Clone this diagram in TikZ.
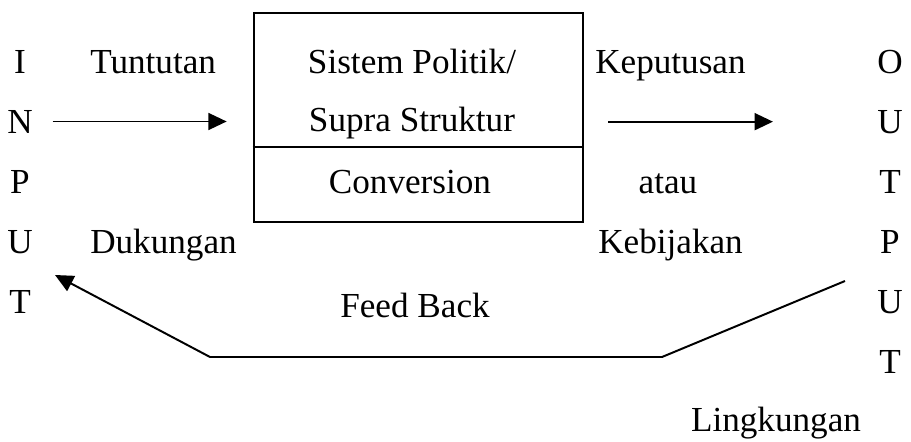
\documentclass[tikz,border=0pt]{standalone}
\usepackage{fontspec}
\setmainfont{Liberation Serif}
\usetikzlibrary{arrows.meta}

\tikzset{
  lbl/.style={anchor=base, inner sep=0pt, font=\fontsize{25}{30}\selectfont},
  arr/.style={line width=1.4pt, -{Triangle[length=13pt, width=12pt]}},
  sysbox/.style={draw, line width=1.8pt, minimum width=8.225cm, minimum height=5.225cm}
}

\begin{document}
\begin{tikzpicture}[x=0.025cm, y=-0.025cm]
  \useasboundingbox (0,0) rectangle (911,441);
  % input and output columns
  \foreach \l [count=\i] in {I, N, P, U, T} {
    \node[lbl] (in\i) at (20, 13 + 60 * \i) {\l};
  }
  \foreach \l [count=\i] in {O, U, T, P, U, T} {
    \node[lbl] (out\i) at (890, 13 + 60 * \i) {\l};
  }
  % the political system
  \node[sysbox] (sys) at (418.5, 117.5) {};
  \draw[line width=1.8pt] (sys.west |- 0, 147) -- (sys.east |- 0, 147);
  \node[lbl] (sistem) at (412, 73) {Sistem Politik/};
  \node[lbl] (supra) at (412, 131) {Supra Struktur};
  \node[lbl] (conv) at (410, 193) {Conversion};
  % labels
  \node[lbl, anchor=base west] (tuntutan) at (90, 73) {Tuntutan};
  \node[lbl, anchor=base west] (dukungan) at (90, 253) {Dukungan};
  \node[lbl, anchor=base west] (keputusan) at (595, 73) {Keputusan};
  \node[lbl] (atau) at (668, 193) {atau};
  \node[lbl, anchor=base west] (kebijakan) at (598, 253) {Kebijakan};
  \node[lbl] (feedback) at (415, 317) {Feed Back};
  \node[lbl] (lingkungan) at (776, 431) {Lingkungan};
  % arrows
  \draw[arr, shorten <=14pt, shorten >=18.5pt] (in2.east) -- (in2.east -| sys.west);
  \draw[arr, shorten <=17pt, shorten >=74pt] (sys.east |- out2.west) -- (out2.west);
  \coordinate (fbstart) at (845, 281);
  \coordinate (fbright) at (662, 357);
  \coordinate (fbleft) at (210, 357);
  \coordinate (fbend) at (55, 275);
  \draw[arr, line join=miter] (fbstart) -- (fbright) -- (fbleft) -- (fbend);
\end{tikzpicture}
\end{document}
